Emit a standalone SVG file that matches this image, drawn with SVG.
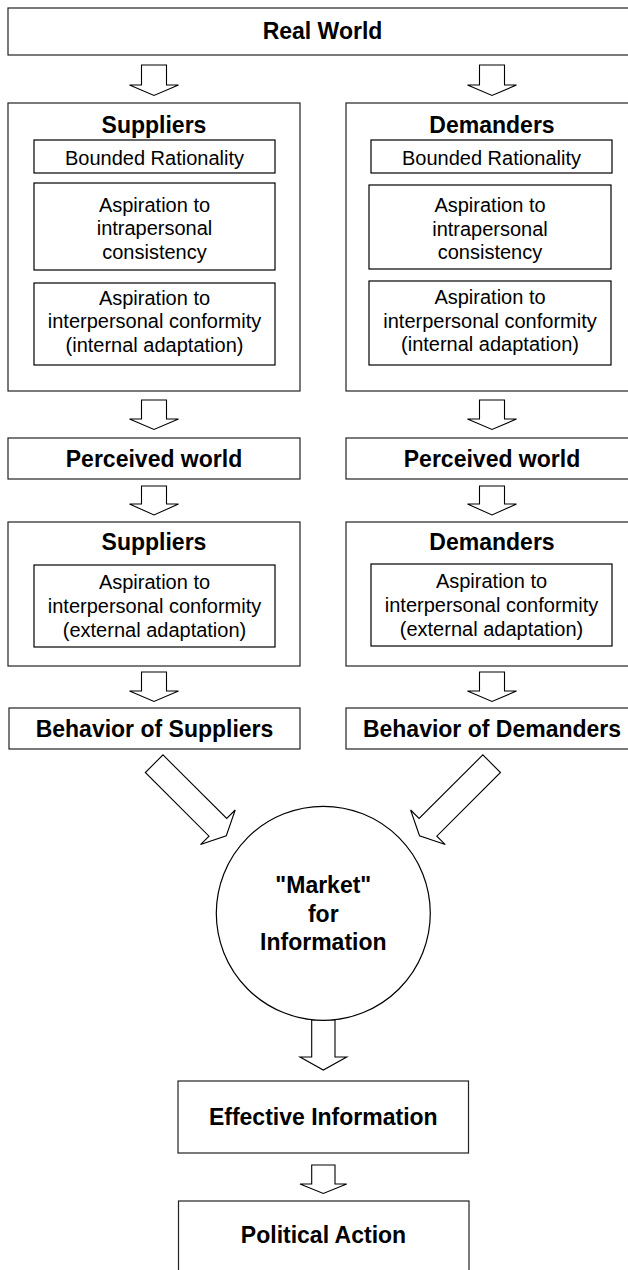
<svg xmlns="http://www.w3.org/2000/svg" width="628" height="1270" viewBox="0 0 628 1270">
<style>
.box{fill:#fff;stroke:#222;stroke-width:1.2}
.ib{fill:#fff;stroke:#000;stroke-width:1.2}
.arr{fill:#fff;stroke:#000;stroke-width:1.1;stroke-linejoin:miter}
.t{font-family:"Liberation Sans",Arial,sans-serif;font-weight:bold;font-size:23px;text-anchor:middle;fill:#000}
.r{font-family:"Liberation Sans",Arial,sans-serif;font-size:20px;text-anchor:middle;fill:#000}
</style>
<rect width="628" height="1270" fill="#fff"/>
<g id="connectors">
<polygon class="arr" points="141.5,65 166.5,65 166.5,85 178.5,85 154,95.5 129.5,85 141.5,85"/>
<polygon class="arr" points="479.5,65 504.5,65 504.5,85 516.5,85 492,95.5 467.5,85 479.5,85"/>
<polygon class="arr" points="141.5,400 166.5,400 166.5,419 178.5,419 154,429.5 129.5,419 141.5,419"/>
<polygon class="arr" points="479.5,400 504.5,400 504.5,419 516.5,419 492,429.5 467.5,419 479.5,419"/>
<polygon class="arr" points="141.5,486 166.5,486 166.5,504 178.5,504 154,515 129.5,504 141.5,504"/>
<polygon class="arr" points="479.5,486 504.5,486 504.5,504 516.5,504 492,515 467.5,504 479.5,504"/>
<polygon class="arr" points="141.5,672 166.5,672 166.5,691 178.5,691 154,701.5 129.5,691 141.5,691"/>
<polygon class="arr" points="479.5,672 504.5,672 504.5,691 516.5,691 492,701.5 467.5,691 479.5,691"/>
<polygon class="arr" points="163,754.9 226.7,818.5 235.2,810 226.3,835.8 200.5,844.6 209,836.2 145.3,772.5"/>
<polygon class="arr" points="482.8,754.9 419.1,818.5 410.6,810 419.5,835.8 445.3,844.6 436.8,836.2 500.5,772.5"/>
<polygon class="arr" points="311.7,1020 335,1020 335,1057 346.7,1057 323.3,1070 300,1057 311.7,1057"/>
<polygon class="arr" points="311.7,1165 335,1165 335,1184 346.7,1184 323.3,1193.5 300,1184 311.7,1184"/>
</g>
<g id="real-world">
<rect class="box" x="8" y="8" width="629" height="47"/>
<text class="t" x="322.5" y="39">Real World</text>
</g>
<g id="suppliers-1">
<rect class="box" x="8" y="103" width="292" height="288"/>
<text class="t" x="154" y="133">Suppliers</text>
</g>
<g id="suppliers-bounded">
<rect class="ib" x="34" y="140" width="241" height="33"/>
<text class="r" x="154.5" y="164.5">Bounded Rationality</text>
</g>
<g id="suppliers-intra">
<rect class="ib" x="34" y="183" width="241" height="87"/>
<text class="r" x="154.5" y="211.5">Aspiration to</text>
<text class="r" x="154.5" y="235">intrapersonal</text>
<text class="r" x="154.5" y="258.5">consistency</text>
</g>
<g id="suppliers-inter-internal">
<rect class="ib" x="34" y="283" width="241" height="82"/>
<text class="r" x="154.5" y="304.5">Aspiration to</text>
<text class="r" x="154.5" y="328">interpersonal conformity</text>
<text class="r" x="154.5" y="351.5">(internal adaptation)</text>
</g>
<g id="demanders-1">
<rect class="box" x="346" y="103" width="292" height="288"/>
<text class="t" x="492" y="133">Demanders</text>
</g>
<g id="demanders-bounded">
<rect class="ib" x="371" y="140" width="241" height="33"/>
<text class="r" x="491.5" y="164.5">Bounded Rationality</text>
</g>
<g id="demanders-intra">
<rect class="ib" x="369" y="185" width="242" height="84"/>
<text class="r" x="490" y="212">Aspiration to</text>
<text class="r" x="490" y="235.5">intrapersonal</text>
<text class="r" x="490" y="259">consistency</text>
</g>
<g id="demanders-inter-internal">
<rect class="ib" x="369" y="281" width="242" height="84"/>
<text class="r" x="490" y="304">Aspiration to</text>
<text class="r" x="490" y="327.5">interpersonal conformity</text>
<text class="r" x="490" y="351">(internal adaptation)</text>
</g>
<g id="perceived-suppliers">
<rect class="box" x="8" y="438" width="292" height="41"/>
<text class="t" x="154" y="466.5">Perceived world</text>
</g>
<g id="perceived-demanders">
<rect class="box" x="346" y="438" width="292" height="41"/>
<text class="t" x="492" y="466.5">Perceived world</text>
</g>
<g id="suppliers-2">
<rect class="box" x="8" y="522" width="292" height="144"/>
<text class="t" x="154" y="550">Suppliers</text>
</g>
<g id="suppliers-inter-external">
<rect class="ib" x="34" y="565" width="241" height="82"/>
<text class="r" x="154.5" y="589">Aspiration to</text>
<text class="r" x="154.5" y="613">interpersonal conformity</text>
<text class="r" x="154.5" y="637">(external adaptation)</text>
</g>
<g id="demanders-2">
<rect class="box" x="346" y="522" width="292" height="144"/>
<text class="t" x="492" y="550">Demanders</text>
</g>
<g id="demanders-inter-external">
<rect class="ib" x="371" y="564" width="241" height="82"/>
<text class="r" x="491.5" y="588">Aspiration to</text>
<text class="r" x="491.5" y="612">interpersonal conformity</text>
<text class="r" x="491.5" y="636">(external adaptation)</text>
</g>
<g id="behavior-suppliers">
<rect class="box" x="9" y="708" width="291" height="41"/>
<text class="t" x="154.5" y="736.5">Behavior of Suppliers</text>
</g>
<g id="behavior-demanders">
<rect class="box" x="346" y="708" width="292" height="41"/>
<text class="t" x="492" y="736.5">Behavior of Demanders</text>
</g>
<g id="market">
<circle class="ib" cx="323.3" cy="913.3" r="107"/>
<text class="t" x="323.3" y="893">"Market"</text>
<text class="t" x="323.3" y="921.5">for</text>
<text class="t" x="323.3" y="950">Information</text>
</g>
<g id="effective-information">
<rect class="box" x="178" y="1081" width="290.5" height="72"/>
<text class="t" x="323.3" y="1125">Effective Information</text>
</g>
<g id="political-action">
<rect class="box" x="178.5" y="1201" width="290.5" height="80"/>
<text class="t" x="323.5" y="1243">Political Action</text>
</g>
</svg>
